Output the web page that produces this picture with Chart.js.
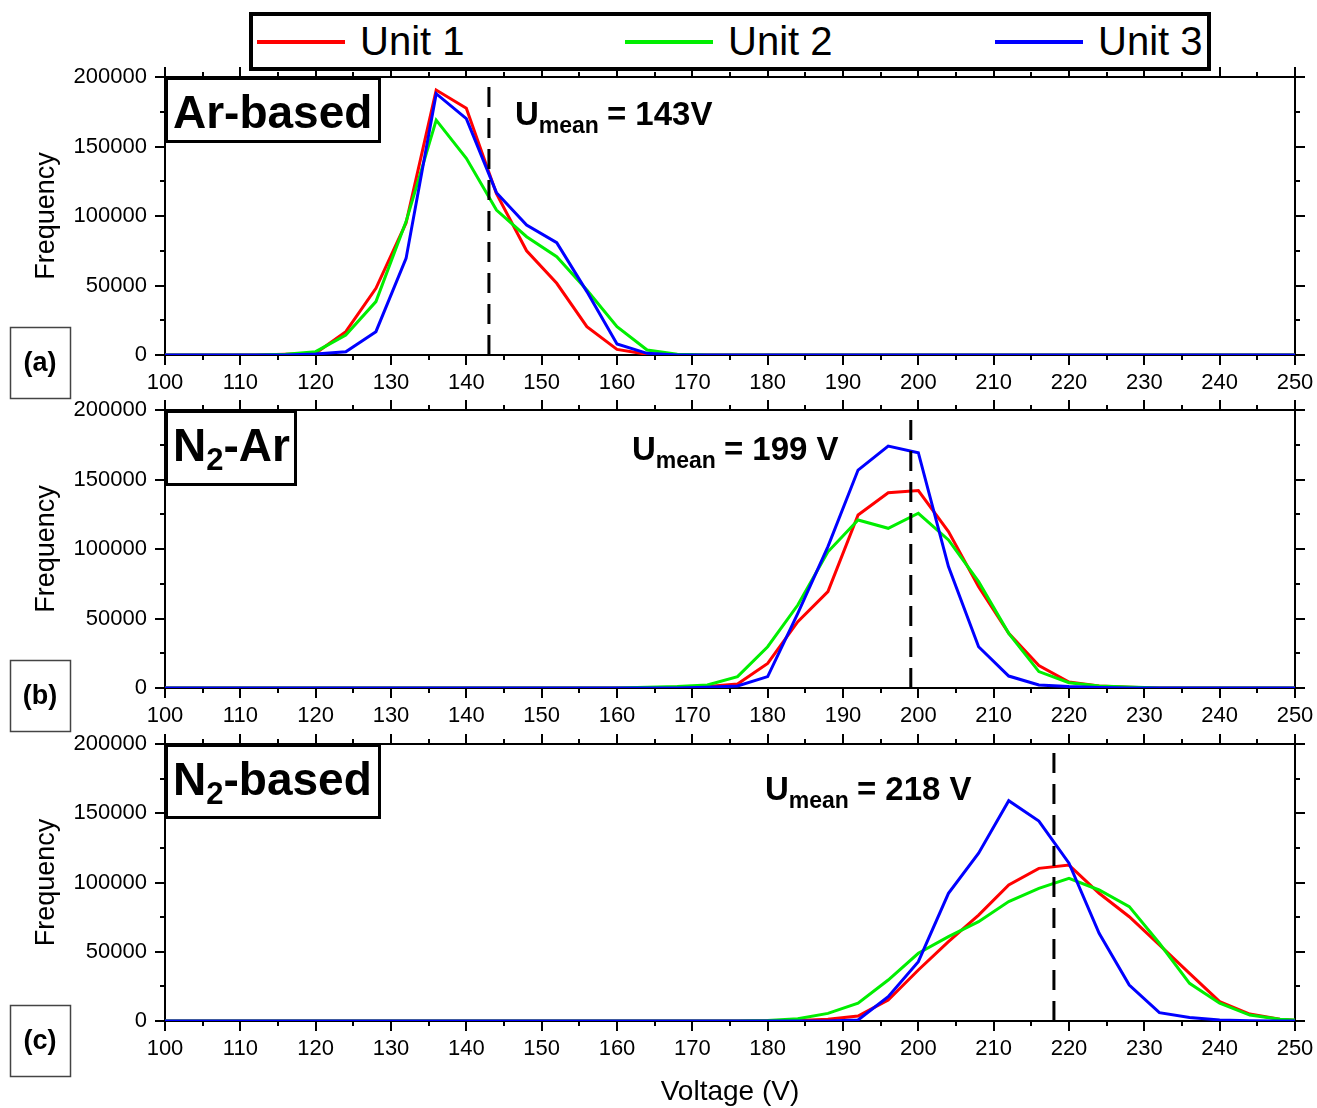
<!DOCTYPE html>
<html>
<head>
<meta charset="utf-8">
<script src="https://cdn.jsdelivr.net/npm/chart.js@4.4.1/dist/chart.umd.min.js"></script>
<style>
  body { margin: 0; background: #fff; }
  #wrap { position: relative; width: 1317px; height: 1108px; font-family: "Liberation Sans", Arial, sans-serif; }
  #wrap canvas { position: absolute; left: 0; top: 0; }
  #legend { position: absolute; left: 249px; top: 12px; width: 962px; height: 59px; border: 4px solid #000; box-sizing: border-box; background: #fff; z-index: 5; }
  .item { position: absolute; top: 0; height: 51px; }
  .swatch { position: absolute; left: 0; top: 24px; width: 88px; height: 4px; }
  .txt { position: absolute; left: 103px; top: 2px; font-size: 40px; line-height: 46px; white-space: nowrap; }
</style>
</head>
<body>
<div id="wrap">
  <div id="legend"></div>
</div>
<script>
// bin centres (V)
const voltage = [100, 104, 108, 112, 116, 120, 124, 128, 132, 136,
                 140, 144, 148, 152, 156, 160, 164, 168, 172, 176,
                 180, 184, 188, 192, 196, 200, 204, 208, 212, 216,
                 220, 224, 228, 232, 236, 240, 244, 248, 250];

const unitNames = ["Unit 1", "Unit 2", "Unit 3"];
const unitColors = ["#ff0000", "#00ee00", "#0000ff"];

// (a) Ar-based
const arUnit1 = [0, 0, 0, 0, 500, 1200, 16800, 48000, 95000, 190600,
                 177500, 116000, 75000, 51600, 20400, 4000, 500, 0, 0, 0,
                 0, 0, 0, 0, 0, 0, 0, 0, 0, 0,
                 0, 0, 0, 0, 0, 0, 0, 0, 0];
const arUnit2 = [0, 0, 0, 0, 500, 2400, 14400, 38400, 96000, 169000,
                 141500, 104300, 85100, 70700, 46800, 20400, 3600, 500, 0, 0,
                 0, 0, 0, 0, 0, 0, 0, 0, 0, 0,
                 0, 0, 0, 0, 0, 0, 0, 0, 0];
const arUnit3 = [0, 0, 0, 0, 0, 700, 2400, 16800, 69500, 188000,
                 170000, 116800, 93500, 80800, 45600, 7900, 1200, 0, 0, 0,
                 0, 0, 0, 0, 0, 0, 0, 0, 0, 0,
                 0, 0, 0, 0, 0, 0, 0, 0, 0];

// (b) N2-Ar
const n2arUnit1 = [0, 0, 0, 0, 0, 0, 0, 0, 0, 0,
                   0, 0, 0, 0, 0, 0, 0, 500, 1000, 2900,
                   17700, 47700, 69300, 124500, 140500, 142000, 112500, 72900, 39300, 16100,
                   4300, 1400, 500, 0, 0, 0, 0, 0, 0];
const n2arUnit2 = [0, 0, 0, 0, 0, 0, 0, 0, 0, 0,
                   0, 0, 0, 0, 0, 0, 500, 1000, 2200, 8200,
                   29700, 59700, 98000, 120900, 114900, 125700, 106500, 76500, 39300, 11800,
                   3800, 1400, 700, 0, 0, 0, 0, 0, 0];
const n2arUnit3 = [0, 0, 0, 0, 0, 0, 0, 0, 0, 0,
                   0, 0, 0, 0, 0, 0, 0, 0, 500, 1400,
                   8200, 53700, 101700, 156800, 174100, 169300, 87300, 29700, 8600, 2200,
                   1000, 300, 0, 0, 0, 0, 0, 0, 0];

// (c) N2-based
const n2Unit1 = [0, 0, 0, 0, 0, 0, 0, 0, 0, 0,
                 0, 0, 0, 0, 0, 0, 0, 0, 0, 0,
                 200, 300, 1200, 3600, 15200, 36800, 57300, 76500, 98200, 110200,
                 112600, 92200, 75300, 54900, 34400, 14000, 5000, 1200, 600];
const n2Unit2 = [0, 0, 0, 0, 0, 0, 0, 0, 0, 0,
                 0, 0, 0, 0, 0, 0, 0, 0, 0, 0,
                 300, 1700, 5500, 12800, 29600, 48900, 60900, 71700, 86200, 95800,
                 103000, 94600, 82600, 56100, 27200, 12800, 4300, 1200, 700];
const n2Unit3 = [0, 0, 0, 0, 0, 0, 0, 0, 0, 0,
                 0, 0, 0, 0, 0, 0, 0, 0, 0, 0,
                 0, 0, 0, 700, 17600, 42800, 92200, 121100, 159100, 144400,
                 113900, 63300, 26000, 6000, 2600, 700, 200, 0, 0];

const meanVoltage = [143, 199, 218];
const meanLabel = ["= 143V", "= 199 V", "= 218 V"];
const letters = ["(a)", "(b)", "(c)"];
// gas label pieces: [text, isSubscript]
const gasLabels = [
  [["Ar-based", false]],
  [["N", false], ["2", true], ["-Ar", false]],
  [["N", false], ["2", true], ["-based", false]]
];

const xMin = 100, xMax = 250, xStep = 10;
const yMin = 0, yMax = 200000, yStep = 50000;

// layout (pixels)
const panelTop = [77, 410, 744];
const panelBottom = [355, 688, 1021];
const gasBox = [{ w: 216, h: 66 }, { w: 132, h: 76 }, { w: 216, h: 75 }];
const meanPos = [{ x: 515, dy: 48 }, { x: 632, dy: 50 }, { x: 765, dy: 56 }];
const letterTop = [327, 660, 1005];
const legendLeft = [4, 372, 742];

const FONT = '"Liberation Sans", Arial, sans-serif';
Chart.defaults.font.family = FONT;
Chart.defaults.color = "#000";

// legend
let legend = document.getElementById("legend");
unitNames.forEach((name, k) => {
  let item = document.createElement("div");
  item.className = "item";
  item.style.left = legendLeft[k] + "px";
  let sw = document.createElement("span");
  sw.className = "swatch";
  sw.style.background = unitColors[k];
  let tx = document.createElement("span");
  tx.className = "txt";
  tx.textContent = name;
  item.appendChild(sw);
  item.appendChild(tx);
  legend.appendChild(item);
});

function framePlugin(i) {
  return {
    id: "frame" + i,
    beforeDatasetsDraw(chart) {
      const { ctx, chartArea: a } = chart;
      const x = chart.scales.x, y = chart.scales.y;
      ctx.save();
      ctx.strokeStyle = "#000";
      ctx.lineWidth = 2;
      ctx.strokeRect(a.left, a.top, a.right - a.left, a.bottom - a.top);
      ctx.beginPath();
      for (let v = xMin; v <= xMax; v += xStep / 2) {
        const px = Math.round(x.getPixelForValue(v));
        const len = v % xStep === 0 ? 10 : 5;
        ctx.moveTo(px, a.bottom); ctx.lineTo(px, a.bottom + len);
        ctx.moveTo(px, a.top); ctx.lineTo(px, a.top - len);
      }
      for (let v = yMin; v <= yMax; v += yStep / 2) {
        const py = Math.round(y.getPixelForValue(v));
        const len = v % yStep === 0 ? 10 : 5;
        ctx.moveTo(a.left, py); ctx.lineTo(a.left - len, py);
        ctx.moveTo(a.right, py); ctx.lineTo(a.right + len, py);
      }
      ctx.stroke();
      ctx.restore();
    },
    afterDraw(chart) {
      const { ctx, chartArea: a } = chart;
      ctx.save();
      ctx.fillStyle = "#000";
      ctx.textBaseline = "alphabetic";

      // gas box
      const b = gasBox[i];
      ctx.fillStyle = "#fff";
      ctx.fillRect(a.left, a.top, b.w, b.h);
      ctx.strokeStyle = "#000";
      ctx.lineWidth = 3;
      ctx.strokeRect(a.left + 1.5, a.top + 1.5, b.w - 3, b.h - 3);
      ctx.fillStyle = "#000";
      let tx = a.left + 8;
      const base = a.top + 51;
      gasLabels[i].forEach(([t, sub]) => {
        ctx.font = sub ? "bold 31px " + FONT : "bold 46px " + FONT;
        ctx.fillText(t, tx, sub ? base + 9 : base);
        tx += ctx.measureText(t).width;
      });

      // mean text
      const m = meanPos[i];
      let mx = m.x;
      const mb = a.top + m.dy;
      ctx.font = "bold 33px " + FONT;
      ctx.fillText("U", mx, mb);
      mx += ctx.measureText("U").width;
      ctx.font = "bold 23px " + FONT;
      ctx.fillText("mean", mx, mb + 8);
      mx += ctx.measureText("mean").width + 8;
      ctx.font = "bold 33px " + FONT;
      ctx.fillText(meanLabel[i], mx, mb);

      // letter box
      ctx.strokeStyle = "#444";
      ctx.lineWidth = 1.5;
      ctx.strokeRect(10.5, letterTop[i] + 0.5, 60, 71);
      ctx.font = "bold 27px " + FONT;
      ctx.textAlign = "center";
      ctx.textBaseline = "middle";
      ctx.fillText(letters[i], 40, letterTop[i] + 37);

      // y title
      ctx.save();
      ctx.translate(47, (a.top + a.bottom) / 2);
      ctx.rotate(-Math.PI / 2);
      ctx.font = "27px " + FONT;
      ctx.fillText("Frequency", 0, 0);
      ctx.restore();

      // x title
      if (i === 2) {
        ctx.font = "28px " + FONT;
        ctx.fillText("Voltage (V)", (a.left + a.right) / 2, 1092);
      }
      ctx.restore();
    }
  };
}

const panelSeries = [
  [arUnit1, arUnit2, arUnit3],
  [n2arUnit1, n2arUnit2, n2arUnit3],
  [n2Unit1, n2Unit2, n2Unit3]
];

function makePanel(i) {
  let wrap = document.getElementById("wrap");
  let canvas = document.createElement("canvas");
  canvas.width = 1317;
  canvas.height = 1108;
  canvas.style.width = "1317px";
  canvas.style.height = "1108px";
  wrap.appendChild(canvas);

  let datasets = panelSeries[i].map((s, k) => ({
    label: unitNames[k],
    data: voltage.map((v, j) => ({ x: v, y: s[j] })),
    borderColor: unitColors[k],
    borderWidth: 3,
    pointRadius: 0,
    tension: 0,
    fill: false,
    order: 3 - k
  }));
  datasets.push({
    label: "mean",
    data: [{ x: meanVoltage[i], y: yMin }, { x: meanVoltage[i], y: yMax }],
    borderColor: "#000",
    borderWidth: 3,
    borderDash: [20, 11],
    pointRadius: 0,
    order: 0
  });

  new Chart(canvas, {
    type: "line",
    data: { datasets: datasets },
    options: {
      responsive: false,
      animation: false,
      devicePixelRatio: 1,
      layout: { padding: { left: 65, right: 22, top: panelTop[i], bottom: 1108 - panelBottom[i] - 40 } },
      plugins: { legend: { display: false }, tooltip: { enabled: false } },
      scales: {
        x: {
          type: "linear",
          min: xMin,
          max: xMax,
          ticks: { stepSize: xStep, color: "#000", font: { size: 22 }, padding: 15, maxRotation: 0, autoSkip: false,
                   callback: v => String(v) },
          grid: { display: false, drawTicks: false },
          border: { display: false },
          afterFit: s => { s.height = 40; s.paddingLeft = 0; s.paddingRight = 0; }
        },
        y: {
          min: yMin,
          max: yMax,
          ticks: { stepSize: yStep, color: "#000", font: { size: 22 }, padding: 18,
                   callback: v => String(v) },
          grid: { display: false, drawTicks: false },
          border: { display: false },
          afterFit: s => { s.width = 100; s.paddingTop = 0; s.paddingBottom = 0; }
        }
      }
    },
    plugins: [framePlugin(i)]
  });
}

makePanel(0);
makePanel(1);
makePanel(2);
</script>
</body>
</html>
